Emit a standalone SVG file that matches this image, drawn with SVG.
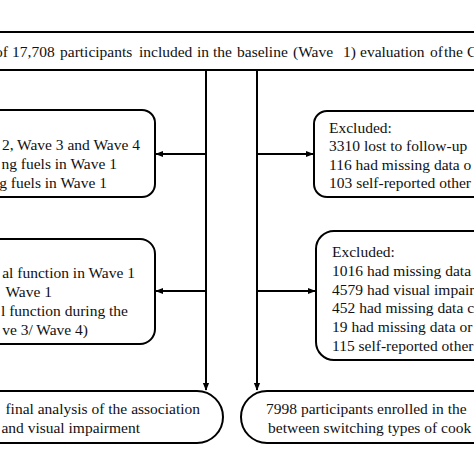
<svg xmlns="http://www.w3.org/2000/svg" width="474" height="474" viewBox="0 0 474 474">
<style>
.box{fill:#fff;stroke:#000;stroke-width:2}
.t{font-family:"Liberation Serif","Times New Roman",serif;font-size:15.5px;fill:#111}
.e{text-anchor:end}
.c{stroke:#000;stroke-width:2;fill:none}
</style>
<defs>
<marker id="ah" viewBox="0 0 10 10" refX="9" refY="5" markerWidth="4" markerHeight="4" orient="auto" markerUnits="strokeWidth">
<path d="M0,1 L10,5 L0,9 z" fill="#000"/>
</marker>
</defs>
<rect width="474" height="474" fill="#fff"/>
<g id="top">
<rect class="box" x="-20" y="32" width="520" height="38"/>
<text class="t" y="57"><tspan x="-5">of</tspan><tspan x="12">17,708</tspan><tspan x="60">participants</tspan><tspan x="139">included</tspan><tspan x="197">in</tspan><tspan x="213">the</tspan><tspan x="237">baseline</tspan><tspan x="293">(Wave</tspan><tspan x="343">1)</tspan><tspan x="360">evaluation</tspan><tspan x="430">of</tspan><tspan x="444">the</tspan><tspan x="467">C</tspan></text>
</g>
<g id="left1">
<rect class="box" x="-100" y="110" width="255" height="87" rx="13"/>
<text class="t e" x="140" y="150">2, Wave 3 and Wave 4</text>
<text class="t e" x="117" y="169">ng fuels in Wave 1</text>
<text class="t e" x="107" y="188">g fuels in Wave 1</text>
</g>
<g id="right1">
<rect class="box" x="314" y="111" width="300" height="86" rx="13"/>
<text class="t" x="329" y="133">Excluded:</text>
<text class="t" x="329" y="151">3310 lost to follow-up</text>
<text class="t" x="329" y="169.5">116 had missing data o</text>
<text class="t" x="329" y="188">103 self-reported other</text>
</g>
<g id="left2">
<rect class="box" x="-100" y="239" width="255" height="105" rx="15"/>
<text class="t e" x="135" y="278">al function in Wave 1</text>
<text class="t e" x="52" y="297">Wave 1</text>
<text class="t e" x="128" y="316">l function during the</text>
<text class="t e" x="88" y="335">ve 3/ Wave 4)</text>
</g>
<g id="right2">
<rect class="box" x="316" y="231" width="300" height="129" rx="18"/>
<text class="t" x="332" y="257">Excluded:</text>
<text class="t" x="332" y="276">1016 had missing data</text>
<text class="t" x="332" y="294.5">4579 had visual impair</text>
<text class="t" x="332" y="313">452 had missing data c</text>
<text class="t" x="332" y="332">19 had missing data or</text>
<text class="t" x="332" y="351">115 self-reported other</text>
</g>
<g id="left3">
<rect class="box" x="-100" y="391" width="323" height="52" rx="26"/>
<text class="t e" x="200" y="414">final analysis of the association</text>
<text class="t e" x="140" y="433">and visual impairment</text>
</g>
<g id="right3">
<rect class="box" x="241" y="391" width="400" height="52" rx="26"/>
<text class="t" x="266" y="414">7998 participants enrolled in the</text>
<text class="t" x="268" y="433">between switching types of cook</text>
</g>
<g id="connectors">
<path class="c" d="M206,70 V390" marker-end="url(#ah)"/>
<path class="c" d="M257,70 V390" marker-end="url(#ah)"/>
<path class="c" d="M206,154 H156" marker-end="url(#ah)"/>
<path class="c" d="M206,291 H156" marker-end="url(#ah)"/>
<path class="c" d="M257,154 H313" marker-end="url(#ah)"/>
<path class="c" d="M257,291 H315" marker-end="url(#ah)"/>
</g>
</svg>
